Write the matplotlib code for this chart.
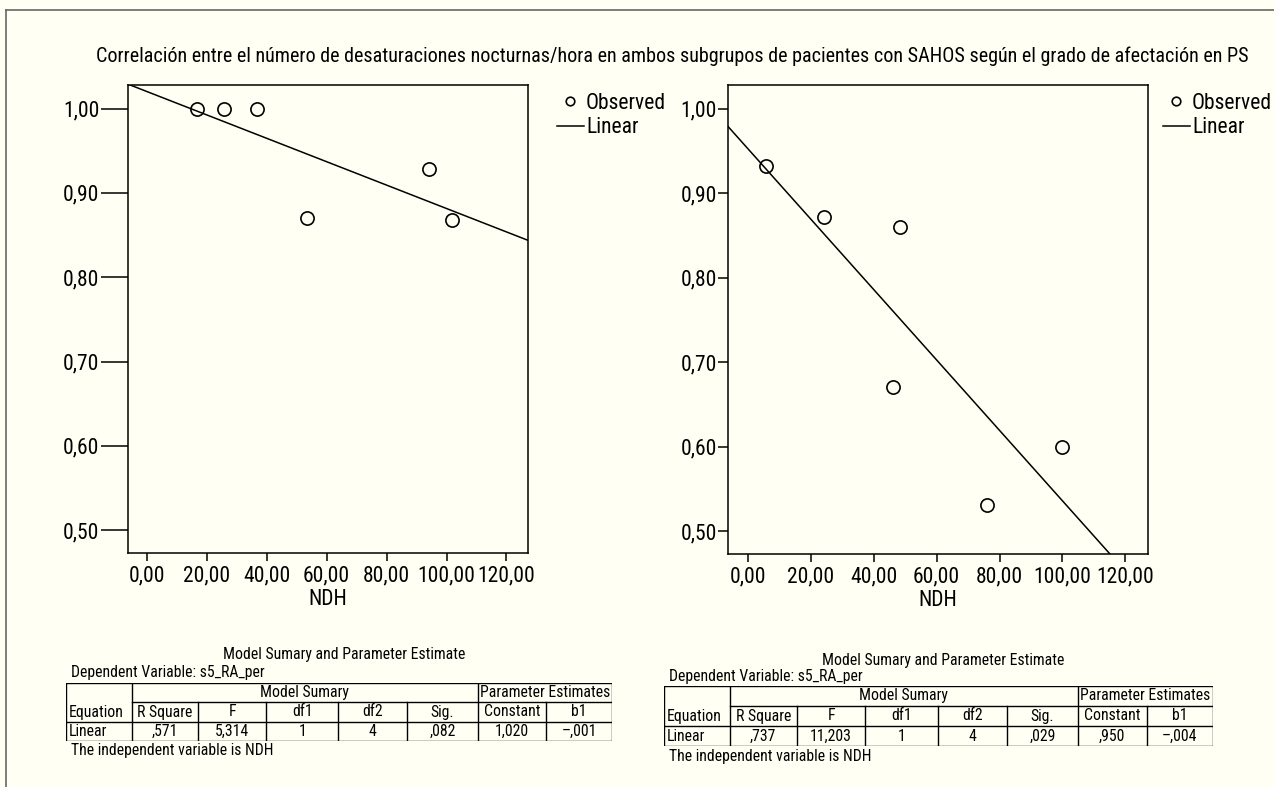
import numpy as np
import matplotlib
matplotlib.use('Agg')
import matplotlib.pyplot as plt
from matplotlib.lines import Line2D

# Data
left_ndh = [16.7, 25.7, 36.7, 53.3, 94.3, 101.7]
left_ra = [1.00, 1.00, 1.00, 0.870, 0.928, 0.868]
right_ndh = [5.7, 24.1, 46.0, 48.3, 75.9, 100.0]
right_ra = [0.932, 0.872, 0.671, 0.860, 0.531, 0.600]

x_ticks = [0, 20, 40, 60, 80, 100, 120]
y_ticks = [0.5, 0.6, 0.7, 0.8, 0.9, 1.0]

table_cols = ['Equation', 'R Square', 'F', 'df1', 'df2', 'Sig.', 'Constant', 'b1']
left_row = ['Linear', ',571', '5,314', '1', '4', ',082', '1,020', '\u2013,001']
right_row = ['Linear', ',737', '11,203', '1', '4', ',029', ',950', '\u2013,004']

title = ('Correlación entre el número de desaturaciones nocturnas/hora en ambos subgrupos '
         'de pacientes con SAHOS según el grado de afectación en PS')

plt.rcParams['font.family'] = ['Liberation Sans Narrow', 'Roboto Condensed', 'DejaVu Sans']
BG = '#fffff3'
W, H = 1274, 787
TICK_FS = 15.5
TAB_FS = 11.3

fig = plt.figure(figsize=(W / 100, H / 100), dpi=100)
fig.patch.set_facecolor(BG)


def box(x0, y0, x1, y1):
    # pixel box -> figure fraction rect
    return [x0 / W, 1 - y1 / H, (x1 - x0) / W, (y1 - y0) / H]


def fx(x):
    return x / W


def fy(y):
    return 1 - y / H


# outer frame (top and left only)
fig.add_artist(Line2D([fx(6), 1.0], [fy(10), fy(10)], color='#666666', lw=1.2))
fig.add_artist(Line2D([fx(6), fx(6)], [fy(10), 0.0], color='#666666', lw=1.2))

fig.text(fx(672), fy(56), title, ha='center', va='center', fontsize=14.5)


def fmt(v):
    return f'{v:.2f}'.replace('.', ',')


def scatter_panel(rect, xs, ys, leg_xy, ytick_len):
    ax = fig.add_axes(rect)
    ax.set_facecolor(BG)
    ax.plot(xs, ys, 'o', ms=9.5, mfc='none', mec='black', mew=1.2, label='Observed',
            zorder=3)
    b1, b0 = np.polyfit(xs, ys, 1)
    xx = np.array([-10, 130])
    ax.plot(xx, b0 + b1 * xx, color='black', lw=1.1, label='Linear')
    ax.set_xlim(-6.3, 127.2)
    ax.set_ylim(0.473, 1.028)
    ax.set_xticks(x_ticks)
    ax.set_xticklabels([fmt(v) for v in x_ticks])
    ax.set_yticks(y_ticks)
    ax.set_yticklabels([fmt(v) for v in y_ticks])
    ax.tick_params(axis='both', direction='out', labelsize=TICK_FS, width=1.1, color='black')
    ax.tick_params(axis='y', length=ytick_len, pad=1)
    ax.tick_params(axis='x', length=6, pad=3)
    for s in ax.spines.values():
        s.set_linewidth(1.1)
    ax.set_xlabel('NDH', fontsize=TICK_FS, labelpad=2)
    ax.legend(loc='upper left', bbox_to_anchor=(fx(leg_xy[0]), fy(leg_xy[1])),
              bbox_transform=fig.transFigure, frameon=False, fontsize=15.5,
              handlelength=1.25, handletextpad=0.1, labelspacing=0.15,
              borderpad=0, borderaxespad=0, markerscale=0.65)
    return ax


scatter_panel(box(128, 85, 528, 553), left_ndh, left_ra, (557, 93), 19.5)
scatter_panel(box(728, 85, 1148, 554), right_ndh, right_ra, (1163, 93), 7)

col_frac = [0, .12, .242, .367, .499, .625, .754, .879, 1.0]
row_frac = [0, .33, .67, 1.0]


def model_table(x0, x1, top, bottom, row, title_y, dep_y):
    fig.text(fx((x0 + x1) / 2 + 5), fy(title_y), 'Model Sumary and Parameter Estimate',
             ha='center', va='center', fontsize=TAB_FS)
    fig.text(fx(x0 + 5), fy(dep_y), 'Dependent Variable: s5_RA_per',
             ha='left', va='center', fontsize=TAB_FS)
    fig.text(fx(x0 + 5), fy(bottom + 10), 'The independent variable is NDH',
             ha='left', va='center', fontsize=TAB_FS)
    ax = fig.add_axes(box(x0, top, x1, bottom))
    ax.set_xlim(0, 1)
    ax.set_ylim(1, 0)
    ax.axis('off')
    kw = dict(color='black', lw=1.0, solid_capstyle='projecting')
    # outer border
    ax.plot([0, 1, 1, 0, 0], [0, 0, 1, 1, 0], **kw)
    ax.plot([col_frac[1], 1], [row_frac[1]] * 2, **kw)
    ax.plot([0, 1], [row_frac[2]] * 2, **kw)
    for i, c in enumerate(col_frac[1:-1], start=1):
        if i in (1, 6):
            ax.plot([c, c], [0, 1], **kw)
        else:
            ax.plot([c, c], [row_frac[1], 1], **kw)
    ax.text((col_frac[1] + col_frac[6]) / 2, row_frac[1] / 2, 'Model Sumary',
            ha='center', va='center', fontsize=TAB_FS)
    ax.text((col_frac[6] + col_frac[8]) / 2, row_frac[1] / 2, 'Parameter Estimates',
            ha='center', va='center', fontsize=TAB_FS)
    ymid1 = (row_frac[1] + row_frac[2]) / 2
    ymid2 = (row_frac[2] + row_frac[3]) / 2
    for i, name in enumerate(table_cols):
        if i == 0:
            ax.text(0.005, ymid1, name, ha='left', va='center', fontsize=TAB_FS)
            ax.text(0.005, ymid2, row[i], ha='left', va='center', fontsize=TAB_FS)
        else:
            cx = (col_frac[i] + col_frac[i + 1]) / 2
            ax.text(cx, ymid1, name, ha='center', va='center', fontsize=TAB_FS)
            ax.text(cx, ymid2, row[i], ha='center', va='center', fontsize=TAB_FS)


model_table(66, 612, 683, 741, left_row, 655, 673)
model_table(664, 1213, 686, 746, right_row, 661, 677)

fig.savefig('out.png', dpi=100, facecolor=BG)
